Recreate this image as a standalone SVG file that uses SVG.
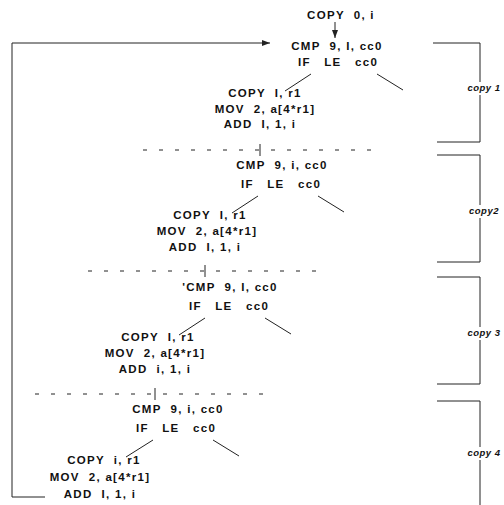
<svg xmlns="http://www.w3.org/2000/svg" width="504" height="505" viewBox="0 0 504 505">
<style>
text{font-family:"Liberation Sans",Arial,sans-serif;font-size:11.5px;font-weight:bold;fill:#111;text-anchor:middle;white-space:pre;letter-spacing:1.3px}
.lab{font-size:9.5px;font-style:italic;letter-spacing:0.5px}
.ln{stroke:#222;stroke-width:1;fill:none}
.dash{stroke:#222;stroke-width:1;fill:none;stroke-dasharray:4,12}
</style>
<defs>
<marker id="ah" markerWidth="8" markerHeight="6" refX="8" refY="3" orient="auto" markerUnits="userSpaceOnUse">
<path d="M0,0 L8,3 L0,6 z" fill="#222"/>
</marker>
</defs>
<rect width="504" height="505" fill="#fff"/>
<g id="connectors">
<line class="ln" x1="335" y1="22" x2="335" y2="38" marker-end="url(#ah)"/>
<polyline class="ln" points="45,497 12,497 12,43 270,43" marker-end="url(#ah)"/>
<line class="ln" x1="311" y1="74" x2="285" y2="91"/>
<line class="ln" x1="377" y1="74" x2="403" y2="90"/>
<line class="dash" x1="143" y1="150" x2="378" y2="150"/>
<line class="ln" x1="260" y1="144" x2="260" y2="156"/>
<line class="ln" x1="258" y1="196" x2="232" y2="213"/>
<line class="ln" x1="318" y1="196" x2="344" y2="212"/>
<line class="dash" x1="88" y1="271" x2="325" y2="271"/>
<line class="ln" x1="205" y1="265" x2="205" y2="277"/>
<line class="ln" x1="205" y1="318" x2="179" y2="335"/>
<line class="ln" x1="265" y1="318" x2="291" y2="334"/>
<line class="dash" x1="35" y1="394" x2="275" y2="394"/>
<line class="ln" x1="155" y1="388" x2="155" y2="400"/>
<line class="ln" x1="153" y1="440" x2="126" y2="457"/>
<line class="ln" x1="213" y1="440" x2="239" y2="456"/>
<polyline class="ln" points="433,43 480,43 480,82"/>
<polyline class="ln" points="480,95 480,142 437,142"/>
<polyline class="ln" points="437,155 480,155 480,205"/>
<polyline class="ln" points="480,218 480,262 437,262"/>
<polyline class="ln" points="437,277 480,277 480,327"/>
<polyline class="ln" points="480,340 480,384 437,384"/>
<polyline class="ln" points="437,401 480,401 480,447"/>
<polyline class="ln" points="480,460 480,505"/>
</g>
<g id="init"><text x="341" y="19">COPY  0, i</text></g>
<g id="block1">
<text x="337" y="50">CMP  9, I, cc0</text>
<text x="338" y="66">IF   LE   cc0</text>
<text x="265" y="97">COPY  I, r1</text>
<text x="265" y="113">MOV  2, a[4*r1]</text>
<text x="260" y="128">ADD  I, 1, i</text>
</g>
<g id="block2">
<text x="282" y="169">CMP  9, i, cc0</text>
<text x="281" y="188">IF   LE   cc0</text>
<text x="210" y="219">COPY  I, r1</text>
<text x="207" y="235">MOV  2, a[4*r1]</text>
<text x="205" y="251">ADD  I, 1, i</text>
</g>
<g id="block3">
<text x="230" y="291">'CMP  9, I, cc0</text>
<text x="229" y="310">IF   LE   cc0</text>
<text x="158" y="341">COPY  I, r1</text>
<text x="155" y="357">MOV  2, a[4*r1]</text>
<text x="155" y="373">ADD  i, 1, i</text>
</g>
<g id="block4">
<text x="178" y="413">CMP  9, i, cc0</text>
<text x="176" y="432">IF   LE   cc0</text>
<text x="104" y="464">COPY  i, r1</text>
<text x="100" y="481">MOV  2, a[4*r1]</text>
<text x="100" y="498">ADD  I, 1, i</text>
</g>
<g id="copy1"><text class="lab" x="484" y="91">copy 1</text></g>
<g id="copy2"><text class="lab" x="484" y="214">copy2</text></g>
<g id="copy3"><text class="lab" x="484" y="336">copy 3</text></g>
<g id="copy4"><text class="lab" x="484" y="456">copy 4</text></g>
</svg>
